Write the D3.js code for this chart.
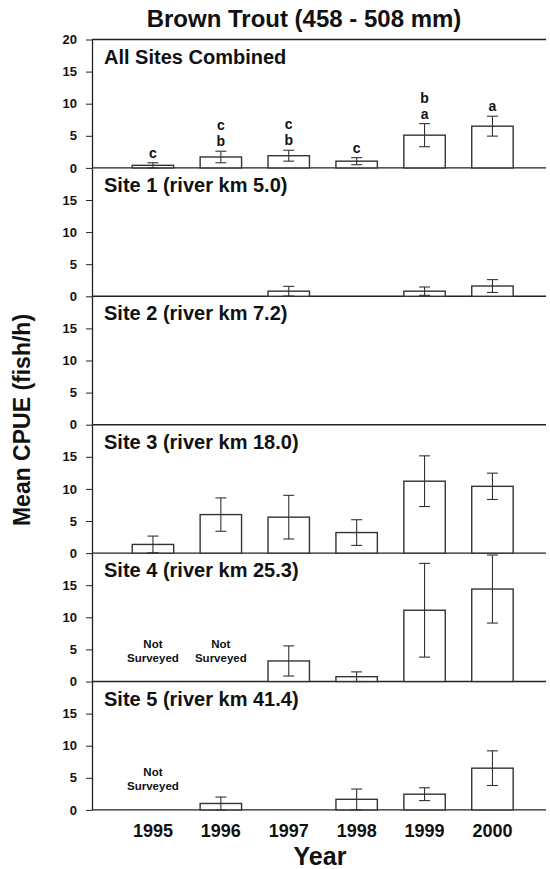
<!DOCTYPE html>
<html>
<head>
<meta charset="utf-8">
<script src="https://cdn.jsdelivr.net/npm/d3@7"></script>
<style>
  html, body { margin: 0; padding: 0; background: #fff; }
  svg { display: block; }
  text { font-family: "Liberation Sans", Arial, Helvetica, sans-serif; font-weight: bold; fill: #111; }
</style>
</head>
<body>
<div id="chart"></div>
<script>
// ---------------- data ----------------
const years = [1995, 1996, 1997, 1998, 1999, 2000];
const panelNames = [
  "All Sites Combined",
  "Site 1 (river km 5.0)",
  "Site 2 (river km 7.2)",
  "Site 3 (river km 18.0)",
  "Site 4 (river km 25.3)",
  "Site 5 (river km 41.4)"
];
const yTicks = [0, 5, 10, 15];
const yTopTick = 20;

// mean CPUE (null = no bar drawn)
const allSitesMean = [0.4, 1.7, 1.9, 1.05, 5.1, 6.5];
const allSitesErr  = [0.4, 0.9, 0.85, 0.55, 1.8, 1.55];
const site1Mean = [null, null, 0.8, null, 0.8, 1.6];
const site1Err  = [null, null, 0.75, null, 0.65, 1.0];
const site2Mean = [null, null, null, null, null, null];
const site2Err  = [null, null, null, null, null, null];
const site3Mean = [1.35, 6.0, 5.6, 3.2, 11.2, 10.4];
const site3Err  = [1.3, 2.6, 3.4, 2.0, 3.95, 2.05];
const site4Mean = [null, null, 3.2, 0.75, 11.1, 14.4];
const site4Err  = [null, null, 2.35, 0.75, 7.3, 5.3];
const site5Mean = [null, 1.0, null, 1.65, 2.45, 6.5];
const site5Err  = [null, 1.0, null, 1.6, 1.0, 2.7];

// significance letters for "All Sites Combined" (top to bottom)
const allSitesLetters = [["c"], ["c", "b"], ["c", "b"], ["c"], ["b", "a"], ["a"]];

// years not surveyed per panel
const notSurveyed = [[], [], [], [], [1995, 1996], [1995]];

const panelMeans = [allSitesMean, site1Mean, site2Mean, site3Mean, site4Mean, site5Mean];
const panelErrs  = [allSitesErr, site1Err, site2Err, site3Err, site4Err, site5Err];

// ---------------- layout ----------------
const W = 550, H = 869;
const axisX = 92, rightX = 546;
const plotTop = 39.5, panelH = 128.4;

const svg = d3.select("#chart").append("svg").attr("width", W).attr("height", H);

const x = d3.scaleBand().domain(years).range([119, 526.4])
  .paddingInner(0.39).paddingOuter(0.195);

const ink = "#222";

panelNames.forEach((name, p) => {
  const base = plotTop + panelH * (p + 1);
  const y = d3.scaleLinear().domain([0, 20]).range([base, base - panelH]);
  const g = svg.append("g");

  // y axis
  const ticks = p === 0 ? yTicks.concat([yTopTick]) : yTicks;
  const ax = g.append("g").attr("transform", `translate(${axisX},0)`)
    .call(d3.axisLeft(y).tickValues(ticks).tickSize(6).tickSizeOuter(0).tickPadding(9));
  ax.select(".domain").attr("stroke", ink).attr("stroke-width", 1.3);
  ax.selectAll(".tick line").attr("stroke", ink).attr("stroke-width", 1);
  ax.selectAll(".tick text").style("font-size", "13px").attr("fill", "#111")
    .style("font-family", '"Liberation Sans", Arial, sans-serif').style("font-weight", "bold");

  // baseline (and top frame line for first panel)
  g.append("line").attr("x1", axisX).attr("x2", rightX)
    .attr("y1", y(0)).attr("y2", y(0)).attr("stroke", ink).attr("stroke-width", 1.4);
  if (p === 0) {
    g.append("line").attr("x1", axisX).attr("x2", rightX)
      .attr("y1", y(20)).attr("y2", y(20)).attr("stroke", ink).attr("stroke-width", 1.4);
  }

  // panel label
  g.append("text").attr("x", 104).attr("y", y(20) + 24)
    .style("font-size", "20px").text(name);

  const data = years.map((yr, i) => ({ year: yr, mean: panelMeans[p][i], err: panelErrs[p][i], i }))
    .filter(d => d.mean !== null);

  // bars
  g.selectAll("rect.bar").data(data).enter().append("rect")
    .attr("class", "bar")
    .attr("x", d => x(d.year))
    .attr("width", x.bandwidth())
    .attr("y", d => y(d.mean))
    .attr("height", d => y(0) - y(d.mean))
    .attr("fill", "#fff").attr("stroke", "#333").attr("stroke-width", 1.4);

  // error bars
  const cap = 5.5;
  const eb = g.selectAll("g.err").data(data.filter(d => d.err)).enter().append("g").attr("class", "err");
  const cx = d => x(d.year) + x.bandwidth() / 2;
  const lo = d => Math.max(0, d.mean - d.err);
  const hi = d => Math.min(20, d.mean + d.err);
  eb.append("line").attr("x1", cx).attr("x2", cx)
    .attr("y1", d => y(lo(d))).attr("y2", d => y(hi(d)))
    .attr("stroke", "#333").attr("stroke-width", 1.1);
  eb.append("line").attr("x1", d => cx(d) - cap).attr("x2", d => cx(d) + cap)
    .attr("y1", d => y(hi(d))).attr("y2", d => y(hi(d)))
    .attr("stroke", "#333").attr("stroke-width", 1.1);
  eb.append("line").attr("x1", d => cx(d) - cap).attr("x2", d => cx(d) + cap)
    .attr("y1", d => y(lo(d))).attr("y2", d => y(lo(d)))
    .attr("stroke", "#333").attr("stroke-width", 1.1);

  // significance letters (first panel)
  if (p === 0) {
    data.forEach(d => {
      const letters = allSitesLetters[d.i];
      const n = letters.length;
      letters.forEach((L, k) => {
        g.append("text")
          .attr("x", cx(d))
          .attr("y", y(hi(d)) - 5 - (n - 1 - k) * 16)
          .attr("text-anchor", "middle")
          .style("font-size", "14px")
          .text(L);
      });
    });
  }

  // not surveyed labels
  notSurveyed[p].forEach(yr => {
    const nx = x(yr) + x.bandwidth() / 2;
    g.append("text").attr("x", nx).attr("y", y(0) - 33.5)
      .attr("text-anchor", "middle").style("font-size", "11.5px").text("Not");
    g.append("text").attr("x", nx).attr("y", y(0) - 20)
      .attr("text-anchor", "middle").style("font-size", "11.5px").text("Surveyed");
  });
});

// x tick labels
const bottom = plotTop + panelH * panelNames.length;
svg.append("g").selectAll("text").data(years).enter().append("text")
  .attr("x", d => x(d) + x.bandwidth() / 2)
  .attr("y", bottom + 27)
  .attr("text-anchor", "middle")
  .style("font-size", "18px")
  .text(d => d);

// axis titles
svg.append("text").attr("x", 320).attr("y", 865)
  .attr("text-anchor", "middle").style("font-size", "25px").text("Year");
svg.append("text")
  .attr("transform", `translate(30,420) rotate(-90)`)
  .attr("text-anchor", "middle").style("font-size", "23px").text("Mean CPUE (fish/h)");

// main title
svg.append("text").attr("x", 304).attr("y", 26.5)
  .attr("text-anchor", "middle").style("font-size", "24px").text("Brown Trout (458 - 508 mm)");
</script>
</body>
</html>
